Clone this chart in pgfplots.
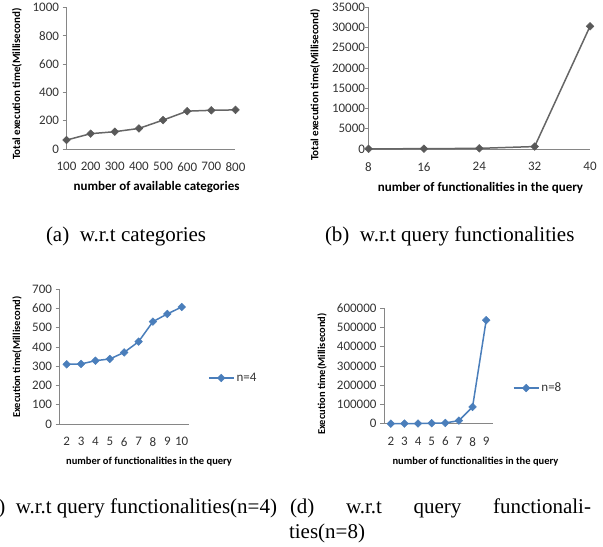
\documentclass[border=0pt]{standalone}
\usepackage{fontspec}
\setmainfont{Carlito}
\newfontfamily\capfont{Liberation Serif}
\usepackage{pgfplots}
\pgfplotsset{compat=1.18}

\definecolor{axgray}{HTML}{868686}
\definecolor{sergray}{HTML}{666666}
\definecolor{mkgray}{HTML}{595959}
\definecolor{serblue}{HTML}{4A7EBB}
\definecolor{lblgray}{HTML}{333333}

\pgfplotsset{
  excel/.style={
    scale only axis,
    anchor=south west,
    axis x line*=bottom,
    axis y line*=left,
    axis line style={axgray, line width=0.8bp},
    tick align=outside,
    ytick style={axgray, line width=0.8bp},
    major tick length=4bp,
    xtick style={draw=none},
    ticklabel style={font=\fontsize{13bp}{15bp}\selectfont, text=lblgray},
    xticklabel style={yshift=-6bp},
    /pgf/number format/fixed,
    /pgf/number format/assume math mode=true,
    /pgf/number format/set thousands separator={},
    scaled y ticks=false,
    scaled x ticks=false,
    ymin=0,
    clip=false,
    xlabel style={anchor=center, font=\bfseries\fontsize{13bp}{15bp}\selectfont},
    ylabel style={anchor=center, rotate=0, font=\bfseries\fontsize{11bp}{13bp}\selectfont},
  },
  sgray/.style={color=sergray, line width=1.5bp, mark=square*, mark size=2.7bp,
    mark options={rotate=45, fill=mkgray, draw=mkgray, line width=0.5bp}},
  sblue/.style={color=serblue, line width=1.5bp, mark=square*, mark size=2.7bp,
    mark options={rotate=45, fill=serblue, draw=serblue, line width=0.5bp}},
  exlegend/.style={
    legend style={draw=none, fill=none, inner sep=0pt, outer sep=0pt, anchor=west,
      font=\fontsize{13bp}{15bp}\selectfont, text=lblgray,
      /tikz/every even column/.append style={column sep=0bp}},
    legend image code/.code={\draw[mark repeat=2,mark phase=2,##1] plot coordinates {(0bp,0bp) (12.5bp,0bp) (25bp,0bp)};},
  },
}

\begin{document}
\begin{tikzpicture}[x=1bp,y=1bp]
\useasboundingbox (0,0) rectangle (603,547);
\clip (0,0) rectangle (603,547);

% (a)
\begin{axis}[excel,
  at={(66.5bp,398bp)}, width=169bp, height=141.7bp,
  xmin=100, xmax=800, ymax=1000,
  xtick={100,200,...,800}, ytick={0,200,...,1000},
  xlabel={number of available categories},
  ylabel={Total execution time(Millisecond)},
  xlabel style={at={(axis description cs:0.533,-0.268)}},
  ylabel style={at={(axis description cs:-0.293,0.459)}, rotate=0},
]
\addplot[sgray] coordinates {(100,63) (200,108) (300,122) (400,145) (500,204) (600,267) (700,273) (800,276)};
\end{axis}

% (b)
\begin{axis}[excel,
  at={(368.5bp,398bp)}, width=221.5bp, height=141.7bp,
  xmin=8, xmax=40, ymax=35000,
  xtick={8,16,24,32,40}, ytick={0,5000,...,35000},
  yticklabel style={xshift=4bp},
  xlabel={number of functionalities in the query},
  ylabel={Total execution time(Millisecond)},
  xlabel style={at={(axis description cs:0.5056,-0.273)}},
  ylabel style={at={(axis description cs:-0.2415,0.452)}},
]
\addplot[sgray] coordinates {(8,40) (16,70) (24,160) (32,600) (40,30300)};
\end{axis}

% (c)
\begin{axis}[excel, exlegend,
  at={(59.5bp,123bp)}, width=129.4bp, height=134.7bp,
  xmin=1.5, xmax=10.5, ymax=700,
  xtick={2,...,10}, ytick={0,100,...,700},
  xlabel={number of functionalities in the query},
  ylabel={Execution time(Millisecond)},
  xlabel style={at={(axis description cs:0.692,-0.282)}, font=\bfseries\fontsize{10.5bp}{12bp}\selectfont},
  ylabel style={at={(axis description cs:-0.328,0.497)}, font=\bfseries\fontsize{10.5bp}{12bp}\selectfont},
  legend style={at={(axis description cs:1.148,0.3415)}},
]
\addplot[sblue] coordinates {(2,310) (3,312) (4,329) (5,338) (6,372) (7,428) (8,532) (9,572) (10,608)};
\addlegendentry{n=4}
\end{axis}

% (d)
\begin{axis}[excel, exlegend,
  at={(384bp,123.3bp)}, width=109bp, height=115.4bp,
  xmin=1.5, xmax=9.5, ymax=600000,
  xtick={2,...,9}, ytick={0,100000,200000,300000,400000,500000,600000},
  xlabel={number of functionalities in the query},
  ylabel={Execution time(Millisecond)},
  xlabel style={at={(axis description cs:0.839,-0.332)}, font=\bfseries\fontsize{10.5bp}{12bp}\selectfont},
  ylabel style={at={(axis description cs:-0.569,0.431)}, font=\bfseries\fontsize{10.5bp}{12bp}\selectfont},
  legend style={at={(axis description cs:1.183,0.309)}},
]
\addplot[sblue] coordinates {(2,200) (3,500) (4,1000) (5,2500) (6,4000) (7,16000) (8,87000) (9,538000)};
\addlegendentry{n=8}
\end{axis}

% captions
\begin{scope}[every node/.style={inner sep=0pt, outer sep=0pt, font=\capfont\fontsize{21bp}{24bp}\selectfont}]
\node[anchor=base west] at (46,305) {(a)\enspace w.r.t categories};
\node[anchor=base west] at (325,305) {(b)\enspace w.r.t query functionalities};
\node[anchor=base east] at (277,33.5) {(c)\enspace w.r.t query functionalities(n=4)};
\node[anchor=base west] at (290,33.5) {\makebox[301bp][s]{(d) w.r.t query functionali-}};
\node[anchor=base west] at (289,8.5) {ties(n=8)};
\end{scope}
\end{tikzpicture}
\end{document}
